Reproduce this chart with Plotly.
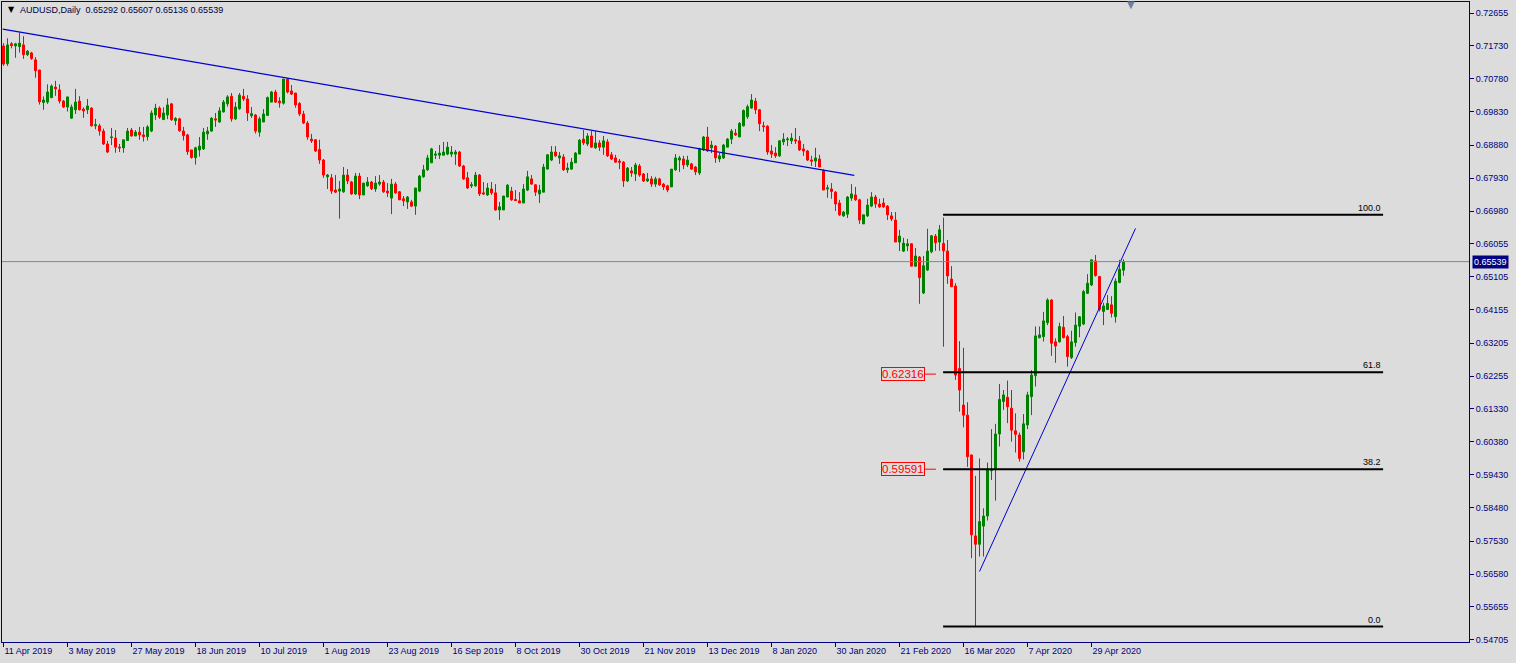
import plotly.graph_objects as go

# ---------------- data (AUDUSD daily, bar index 0..280) ----------------
opens = [
0.7172,0.7121,0.7178,0.7172,0.7170,0.7175,0.7147,0.7152,0.7132,0.7103,
0.7010,0.7011,0.7024,0.7054,0.7046,0.7014,0.6997,0.6965,0.6989,0.7014,
0.6991,0.6989,0.6994,0.6943,0.6943,0.6928,0.6891,0.6909,0.6908,0.6882,
0.6880,0.6901,0.6931,0.6914,0.6925,0.6917,0.6912,0.6928,0.6974,0.6994,
0.6961,0.6974,0.7006,0.6958,0.6963,0.6928,0.6917,0.6874,0.6852,0.6874,
0.6877,0.6920,0.6928,0.6963,0.6954,0.6983,0.7006,0.7028,0.6963,0.6992,
0.7028,0.7020,0.6972,0.6974,0.6925,0.6954,0.6973,0.7011,0.7040,0.7014,
0.7008,0.7077,0.7043,0.7037,0.7007,0.6977,0.6951,0.6905,0.6903,0.6875,
0.6845,0.6797,0.6794,0.6759,0.6756,0.6754,0.6802,0.6782,0.6748,0.6799,
0.6745,0.6771,0.6782,0.6762,0.6776,0.6782,0.6756,0.6736,0.6776,0.6754,
0.6734,0.6725,0.6725,0.6713,0.6756,0.6797,0.6817,0.6837,0.6859,0.6859,
0.6859,0.6862,0.6862,0.6862,0.6868,0.6828,0.6794,0.6771,0.6771,0.6802,
0.6751,0.6745,0.6762,0.6751,0.6702,0.6702,0.6739,0.6756,0.6732,0.6728,
0.6722,0.6759,0.6791,0.6774,0.6748,0.6753,0.6819,0.6845,0.6868,0.6851,
0.6854,0.6817,0.6819,0.6837,0.6862,0.6905,0.6891,0.6914,0.6880,0.6894,
0.6882,0.6897,0.6860,0.6851,0.6842,0.6839,0.6785,0.6814,0.6805,0.6828,
0.6805,0.6785,0.6791,0.6776,0.6791,0.6776,0.6771,0.6768,0.6817,0.6845,
0.6848,0.6831,0.6834,0.6825,0.6808,0.6874,0.6911,0.6880,0.6885,0.6848,
0.6851,0.6882,0.6905,0.6922,0.6911,0.6943,0.6969,0.6994,0.7014,0.6989,
0.6943,0.6942,0.6871,0.6865,0.6857,0.6897,0.6903,0.6900,0.6903,0.6900,
0.6877,0.6871,0.6845,0.6842,0.6848,0.6814,0.6762,0.6762,0.6753,0.6722,
0.6685,0.6690,0.6736,0.6745,0.6731,0.6662,0.6685,0.6713,0.6739,0.6719,
0.6722,0.6713,0.6685,0.6673,0.6610,0.6584,0.6599,0.6605,0.6541,0.6567,
0.6464,0.6530,0.6582,0.6627,0.6610,0.6606,0.6584,0.6504,0.6484,0.6248,
0.6143,0.6114,0.6000,0.5768,0.5744,0.5796,0.5825,0.5955,0.5962,0.6060,
0.6153,0.6165,0.6134,0.6069,0.6057,0.6009,0.6086,0.6167,0.6227,0.6336,
0.6339,0.6379,0.6444,0.6324,0.6324,0.6366,0.6339,0.6279,0.6322,0.6369,
0.6375,0.6463,0.6487,0.6556,0.6511,0.6411,0.6417,0.6430,0.6396,0.6494,
0.65292]
highs = [
0.7180,0.7194,0.7183,0.7181,0.7210,0.7200,0.7160,0.7155,0.7140,0.7103,
0.7027,0.7062,0.7062,0.7072,0.7062,0.7017,0.7026,0.7004,0.7049,0.7028,
0.6996,0.7020,0.6996,0.6963,0.6949,0.6935,0.6900,0.6937,0.6931,0.6891,
0.6903,0.6937,0.6937,0.6931,0.6940,0.6940,0.6945,0.6987,0.7006,0.6999,
0.6996,0.7022,0.7008,0.6968,0.6966,0.6940,0.6920,0.6874,0.6883,0.6911,
0.6937,0.6940,0.6968,0.6980,0.6996,0.7017,0.7031,0.7037,0.7011,0.7037,
0.7049,0.7031,0.6997,0.6977,0.6969,0.6991,0.7027,0.7043,0.7046,0.7025,
0.7077,0.7080,0.7060,0.7037,0.7011,0.6986,0.6957,0.6920,0.6905,0.6903,
0.6848,0.6805,0.6805,0.6802,0.6785,0.6825,0.6819,0.6785,0.6808,0.6808,
0.6779,0.6796,0.6785,0.6799,0.6802,0.6788,0.6779,0.6791,0.6782,0.6756,
0.6742,0.6742,0.6731,0.6765,0.6802,0.6831,0.6860,0.6880,0.6871,0.6888,
0.6897,0.6897,0.6885,0.6874,0.6871,0.6831,0.6811,0.6782,0.6811,0.6805,
0.6782,0.6779,0.6782,0.6776,0.6725,0.6742,0.6776,0.6768,0.6759,0.6753,
0.6776,0.6814,0.6802,0.6776,0.6774,0.6834,0.6862,0.6885,0.6885,0.6868,
0.6862,0.6837,0.6851,0.6868,0.6905,0.6931,0.6922,0.6928,0.6928,0.6902,
0.6914,0.6905,0.6868,0.6860,0.6848,0.6842,0.6825,0.6825,0.6837,0.6834,
0.6808,0.6808,0.6799,0.6797,0.6794,0.6779,0.6774,0.6819,0.6862,0.6857,
0.6857,0.6857,0.6837,0.6828,0.6880,0.6914,0.6940,0.6900,0.6888,0.6865,
0.6891,0.6908,0.6934,0.6934,0.6954,0.6990,0.7004,0.7034,0.7023,0.6991,
0.6955,0.6945,0.6888,0.6882,0.6902,0.6922,0.6911,0.6922,0.6937,0.6914,
0.6891,0.6874,0.6857,0.6880,0.6860,0.6819,0.6774,0.6779,0.6756,0.6731,
0.6699,0.6742,0.6776,0.6768,0.6734,0.6688,0.6734,0.6753,0.6745,0.6734,
0.6736,0.6716,0.6696,0.6696,0.6645,0.6622,0.6619,0.6607,0.6593,0.6570,
0.6570,0.6648,0.6630,0.6633,0.6659,0.6680,0.6616,0.6541,0.6492,0.6326,
0.6307,0.6151,0.6000,0.5940,0.5990,0.5847,0.5978,0.6074,0.6089,0.6203,
0.6186,0.6213,0.6186,0.6119,0.6064,0.6117,0.6181,0.6243,0.6368,0.6368,
0.6410,0.6449,0.6446,0.6334,0.6379,0.6398,0.6344,0.6356,0.6408,0.6398,
0.6473,0.6518,0.6560,0.6573,0.6513,0.6436,0.6458,0.6455,0.6506,0.6559,
0.65607]
lows = [
0.7115,0.7115,0.7165,0.7138,0.7153,0.7135,0.7143,0.7132,0.7081,0.7004,
0.6989,0.7006,0.7022,0.7029,0.7007,0.6994,0.6984,0.6963,0.6977,0.6987,
0.6966,0.6977,0.6941,0.6933,0.6915,0.6888,0.6865,0.6888,0.6866,0.6868,
0.6866,0.6900,0.6912,0.6914,0.6903,0.6898,0.6901,0.6925,0.6960,0.6963,
0.6960,0.6962,0.6957,0.6945,0.6926,0.6901,0.6860,0.6849,0.6832,0.6855,
0.6874,0.6903,0.6926,0.6940,0.6952,0.6981,0.6998,0.6955,0.6960,0.6989,
0.7014,0.6957,0.6966,0.6921,0.6912,0.6954,0.6971,0.7011,0.7009,0.6995,
0.7004,0.7036,0.7031,0.6995,0.6971,0.6948,0.6903,0.6894,0.6868,0.6834,
0.6794,0.6762,0.6748,0.6750,0.6677,0.6751,0.6776,0.6745,0.6745,0.6733,
0.6745,0.6768,0.6759,0.6754,0.6771,0.6751,0.6739,0.6690,0.6748,0.6731,
0.6713,0.6705,0.6710,0.6688,0.6753,0.6794,0.6814,0.6837,0.6848,0.6848,
0.6859,0.6859,0.6854,0.6831,0.6825,0.6788,0.6762,0.6765,0.6768,0.6742,
0.6745,0.6742,0.6745,0.6700,0.6673,0.6702,0.6739,0.6728,0.6728,0.6722,
0.6722,0.6756,0.6774,0.6742,0.6722,0.6753,0.6819,0.6842,0.6854,0.6834,
0.6814,0.6808,0.6817,0.6837,0.6862,0.6888,0.6885,0.6880,0.6877,0.6871,
0.6860,0.6854,0.6845,0.6837,0.6819,0.6768,0.6782,0.6797,0.6785,0.6797,
0.6782,0.6782,0.6768,0.6768,0.6771,0.6759,0.6753,0.6768,0.6814,0.6811,
0.6819,0.6825,0.6817,0.6802,0.6802,0.6871,0.6868,0.6865,0.6837,0.6839,
0.6848,0.6882,0.6891,0.6914,0.6911,0.6941,0.6963,0.6992,0.6977,0.6928,
0.6926,0.6860,0.6851,0.6851,0.6854,0.6888,0.6885,0.6891,0.6891,0.6871,
0.6857,0.6842,0.6828,0.6825,0.6825,0.6759,0.6737,0.6734,0.6699,0.6685,
0.6682,0.6679,0.6728,0.6728,0.6662,0.6662,0.6682,0.6710,0.6708,0.6708,
0.6708,0.6673,0.6670,0.6610,0.6584,0.6582,0.6584,0.6541,0.6539,0.6433,
0.6461,0.6527,0.6578,0.6585,0.6585,0.6310,0.6490,0.6482,0.6215,0.6124,
0.6079,0.5966,0.5704,0.5508,0.5709,0.5709,0.5812,0.5928,0.5869,0.6024,
0.6129,0.6091,0.6038,0.6007,0.5981,0.5987,0.6074,0.6114,0.6196,0.6334,
0.6325,0.6372,0.6284,0.6264,0.6322,0.6334,0.6253,0.6275,0.6310,0.6337,
0.6372,0.6461,0.6484,0.6511,0.6411,0.6372,0.6415,0.6394,0.6379,0.6492,
0.65136]
closes = [
0.7120,0.7175,0.7173,0.7178,0.7180,0.7147,0.7157,0.7136,0.7101,0.7012,
0.7017,0.7040,0.7057,0.7049,0.7014,0.6997,0.7026,0.6997,0.7011,0.6989,
0.6986,0.7000,0.6943,0.6946,0.6928,0.6891,0.6868,0.6911,0.6882,0.6880,
0.6903,0.6928,0.6914,0.6925,0.6917,0.6912,0.6940,0.6980,0.6994,0.6968,
0.6980,0.7003,0.6961,0.6964,0.6929,0.6915,0.6869,0.6852,0.6880,0.6885,
0.6925,0.6928,0.6965,0.6960,0.6986,0.7011,0.7026,0.6963,0.6997,0.7031,
0.7020,0.6980,0.6978,0.6928,0.6963,0.6977,0.7024,0.7040,0.7011,0.7009,
0.7077,0.7040,0.7034,0.7003,0.6977,0.6951,0.6911,0.6900,0.6871,0.6845,
0.6802,0.6802,0.6756,0.6753,0.6762,0.6802,0.6785,0.6748,0.6799,0.6745,
0.6779,0.6782,0.6763,0.6779,0.6782,0.6754,0.6751,0.6776,0.6751,0.6731,
0.6728,0.6739,0.6713,0.6765,0.6799,0.6817,0.6851,0.6877,0.6862,0.6865,
0.6868,0.6882,0.6868,0.6868,0.6828,0.6791,0.6765,0.6774,0.6802,0.6748,
0.6748,0.6765,0.6751,0.6702,0.6711,0.6742,0.6773,0.6731,0.6729,0.6722,
0.6762,0.6797,0.6776,0.6753,0.6759,0.6825,0.6860,0.6868,0.6857,0.6857,
0.6817,0.6822,0.6839,0.6865,0.6902,0.6894,0.6914,0.6882,0.6894,0.6882,
0.6900,0.6857,0.6848,0.6839,0.6839,0.6785,0.6822,0.6808,0.6831,0.6802,
0.6785,0.6791,0.6776,0.6791,0.6774,0.6768,0.6759,0.6819,0.6851,0.6851,
0.6831,0.6845,0.6819,0.6811,0.6877,0.6911,0.6871,0.6888,0.6851,0.6857,
0.6888,0.6905,0.6928,0.6917,0.6950,0.6987,0.6998,0.7017,0.6989,0.6949,
0.6941,0.6868,0.6862,0.6857,0.6900,0.6905,0.6905,0.6908,0.6900,0.6874,
0.6871,0.6845,0.6842,0.6851,0.6825,0.6759,0.6765,0.6755,0.6719,0.6688,
0.6696,0.6739,0.6748,0.6731,0.6673,0.6688,0.6716,0.6739,0.6719,0.6711,
0.6711,0.6688,0.6676,0.6610,0.6627,0.6607,0.6605,0.6541,0.6570,0.6508,
0.6542,0.6584,0.6628,0.6608,0.6645,0.6585,0.6513,0.6482,0.6229,0.6186,
0.6114,0.5995,0.5771,0.5744,0.5809,0.5825,0.5959,0.5959,0.6060,0.6159,
0.6172,0.6138,0.6071,0.6059,0.5990,0.6089,0.6172,0.6229,0.6341,0.6344,
0.6384,0.6444,0.6320,0.6312,0.6368,0.6336,0.6282,0.6324,0.6372,0.6396,
0.6468,0.6492,0.6559,0.6514,0.6417,0.6427,0.6434,0.6406,0.6498,0.6532,
0.65539]

symbol = "AUDUSD"
timeframe = "Daily"

date_tick_bars = [0, 16, 32, 48, 64, 80, 96, 112, 128, 144, 160, 176, 192, 208, 224, 240, 256, 272]
date_tick_labels = ["11 Apr 2019", "3 May 2019", "27 May 2019", "18 Jun 2019", "10 Jul 2019",
                    "1 Aug 2019", "23 Aug 2019", "16 Sep 2019", "8 Oct 2019", "30 Oct 2019",
                    "21 Nov 2019", "13 Dec 2019", "8 Jan 2020", "30 Jan 2020", "21 Feb 2020",
                    "16 Mar 2020", "7 Apr 2020", "29 Apr 2020"]
price_ticks = [0.72655, 0.71730, 0.70780, 0.69830, 0.68880, 0.67930, 0.66980, 0.66055, 0.65105,
               0.64155, 0.63205, 0.62255, 0.61330, 0.60380, 0.59430, 0.58480, 0.57530, 0.56580,
               0.55655, 0.54705]

# trend lines: (bar index, price) anchors
trend1_bars = [-0.2, 212.7]
trend1_prices = [0.7220, 0.6801]
trend2_bars = [244.0, 283.0]
trend2_prices = [0.5666, 0.6649]

# Fibonacci retracement
fib_bar_start = 234.9
fib_bar_end = 344.9
fib_low = 0.5508
fib_high = 0.6688
fib_levels = [0.0, 38.2, 61.8, 100.0]
fib_price_labels = ["0.59591", "0.62316"]
fib_price_values = [0.59591, 0.62316]

# ---------------- figure ----------------
NAVY = "#000080"
FONT = "Liberation Sans"
bars = list(range(len(closes)))

fig = go.Figure()
fig.add_trace(go.Candlestick(
    x=bars, open=opens, high=highs, low=lows, close=closes,
    increasing=dict(line=dict(color="#008000", width=1), fillcolor="#008000"),
    decreasing=dict(line=dict(color="#ff0000", width=1), fillcolor="#ff0000"),
    whiskerwidth=0, hoverinfo="skip",
))

fig.add_trace(go.Scatter(x=trend1_bars, y=trend1_prices, mode="lines",
                         line=dict(color="#0000d0", width=1.2), hoverinfo="skip"))
fig.add_trace(go.Scatter(x=trend2_bars, y=trend2_prices, mode="lines",
                         line=dict(color="#0000d0", width=1), hoverinfo="skip"))

annotations = []
for lv in fib_levels:
    p = fib_low + (fib_high - fib_low) * lv / 100.0
    fig.add_trace(go.Scatter(x=[fib_bar_start, fib_bar_end], y=[p, p], mode="lines",
                             line=dict(color="#000000", width=2), hoverinfo="skip"))
    annotations.append(dict(x=fib_bar_end, y=p, xref="x", yref="y", text=f"{lv:.1f}",
                            showarrow=False, xanchor="right", yanchor="bottom", yshift=0,
                            font=dict(family=FONT, size=9, color="#000000")))

for txt, val in zip(fib_price_labels, fib_price_values):
    fig.add_trace(go.Scatter(x=[fib_bar_start - 4.5, fib_bar_start - 1.8], y=[val, val], mode="lines",
                             line=dict(color="#ff0000", width=1), hoverinfo="skip"))
    annotations.append(dict(x=fib_bar_start - 4.5, y=val, xref="x", yref="y", text=txt,
                            showarrow=False, xanchor="right", yanchor="middle",
                            bordercolor="#ff0000", borderwidth=1, borderpad=0,
                            bgcolor="#dcdcdc",
                            font=dict(family=FONT, size=11.5, color="#ff0000")))

last_close = closes[-1]
fig.add_shape(type="line", xref="paper", x0=0, x1=1, yref="y", y0=last_close, y1=last_close,
              line=dict(color="#7a8796", width=1))
annotations.append(dict(x=1, y=last_close, xref="paper", yref="y", text=f"{last_close:.5f}",
                        showarrow=False, xanchor="left", yanchor="middle", xshift=3,
                        bgcolor=NAVY, borderpad=1,
                        font=dict(family=FONT, size=9, color="#ffffff")))

title = (f"{symbol},{timeframe}  {opens[-1]:.5f} {highs[-1]:.5f} "
         f"{lows[-1]:.5f} {closes[-1]:.5f}")
annotations.append(dict(x=0.0025, y=0.9985, xref="paper", yref="paper", text="▼",
                        showarrow=False, xanchor="left", yanchor="top",
                        font=dict(family="DejaVu Sans", size=8, color="#000000")))
annotations.append(dict(x=0.011, y=0.999, xref="paper", yref="paper", text=title,
                        showarrow=False, xanchor="left", yanchor="top",
                        font=dict(family=FONT, size=9, color="#000040")))
annotations.append(dict(x=0.7695, y=1.0, xref="paper", yref="paper", text="▼",
                        showarrow=False, xanchor="center", yanchor="top", yshift=5,
                        font=dict(family="DejaVu Sans", size=10, color="#7080a0")))

fig.update_layout(
    width=1516, height=663, autosize=False,
    margin=dict(l=2, r=47, t=2, b=21, pad=0),
    paper_bgcolor="#dcdcdc", plot_bgcolor="#dcdcdc",
    showlegend=False, boxgap=0.5, boxgroupgap=0,
    annotations=annotations,
    xaxis=dict(range=[-0.375, 366.375], tickmode="array", tickvals=date_tick_bars,
               ticktext=date_tick_labels, ticks="outside", ticklen=4, tickwidth=1,
               tickcolor=NAVY, showline=True, linecolor=NAVY, linewidth=1, mirror=True,
               showgrid=False, zeroline=False, rangeslider=dict(visible=False),
               ticklabelposition="outside right",
               tickfont=dict(family=FONT, size=9, color=NAVY)),
    yaxis=dict(range=[0.54639, 0.72979], side="right", tickmode="array",
               tickvals=price_ticks, ticktext=[f"{v:.5f}" for v in price_ticks],
               ticks="outside", ticklen=4, tickwidth=1, tickcolor=NAVY,
               showline=True, linecolor=NAVY, linewidth=1, mirror=True,
               showgrid=False, zeroline=False,
               tickfont=dict(family=FONT, size=9, color=NAVY)),
)

fig.write_html(
    "out.html",
    config={"displayModeBar": False},
    post_script="document.body.style.margin='0';document.body.style.padding='0';"
                "document.body.style.overflow='hidden';"
                "document.body.style.background='#dcdcdc';",
)
